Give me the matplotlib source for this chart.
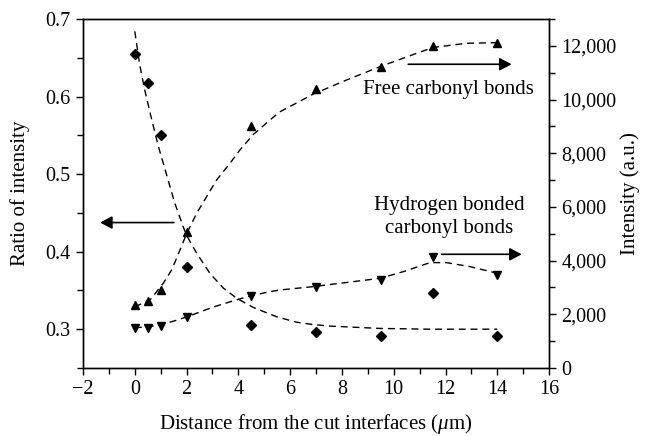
import numpy as np
import matplotlib
matplotlib.use('Agg')
import matplotlib.pyplot as plt
from matplotlib.ticker import FuncFormatter, MultipleLocator

plt.rcParams['font.family'] = ['Liberation Serif', 'DejaVu Serif']
plt.rcParams['mathtext.fontset'] = 'custom'
plt.rcParams['mathtext.rm'] = 'Liberation Serif'
plt.rcParams['mathtext.it'] = 'Liberation Serif:italic'

# measured points
distance = [0, 0.5, 1, 2, 4.5, 7, 9.5, 11.5, 14]
ratio = [0.655, 0.617, 0.551, 0.380, 0.306, 0.297, 0.291, 0.347, 0.291]
free_int = [2350, 2500, 2910, 5050, 9010, 10380, 11220, 11990, 12120]
hbond_int = [1500, 1480, 1560, 1890, 2680, 3010, 3280, 4120, 3480]

# dashed fit curves
ratio_fit_x = [0.0, 0.19, 0.38, 0.64, 0.90, 1.22, 1.54, 1.86, 2.0, 2.39, 2.9,
               3.42, 3.93, 4.58, 5.48, 6.25, 6.89, 7.54, 9.47, 11.4, 14.0]
ratio_fit_y = [0.684, 0.641, 0.609, 0.572, 0.537, 0.500, 0.463, 0.433, 0.421,
               0.398, 0.372, 0.353, 0.340, 0.328, 0.316, 0.309, 0.306, 0.304,
               0.301, 0.300, 0.300]
free_fit_x = [0.0, 0.59, 1.1, 1.42, 1.62, 2.0, 2.39, 3.16, 3.68, 4.06, 4.58,
              5.22, 5.6, 6.89, 8.18, 9.47, 10.88, 11.53, 12.81, 14.0]
free_fit_y = [2280, 2533, 3155, 3650, 4100, 5000, 5763, 7003, 7629, 8121,
              8700, 9238, 9540, 10200, 10728, 11224, 11720, 11940, 12094, 12118]
hbond_fit_x = [0.0, 0.59, 1.1, 1.55, 2.0, 2.64, 3.03, 3.93, 4.45, 5.22, 5.6,
               6.89, 9.47, 10.37, 11.4, 12.04, 12.95, 14.0]
hbond_fit_y = [1500, 1540, 1639, 1760, 1900, 2130, 2270, 2540, 2682, 2842,
               2905, 3030, 3340, 3588, 3924, 3924, 3775, 3527]

fig = plt.figure(figsize=(6.46, 4.36), dpi=100)
ax = fig.add_axes([0.1285, 0.156, 0.7215, 0.8005])
ax2 = ax.twinx()

dash = dict(color='black', lw=1.0, ls=(0, (5, 3.5)))
ax.plot(ratio_fit_x, ratio_fit_y, **dash)
ax.plot(distance, ratio, 'D', color='black', ms=4.8)
ax2.plot(free_fit_x, free_fit_y, **dash)
ax2.plot(hbond_fit_x, hbond_fit_y, **dash)
ax2.plot(distance, free_int, '^', color='black', ms=6.3)
ax2.plot(distance, hbond_int, 'v', color='black', ms=6.3)

ax.set_xlim(-2, 16)
ax.set_ylim(0.25, 0.7)
ax2.set_ylim(0, 13000)

ax.xaxis.set_major_locator(MultipleLocator(2))
ax.xaxis.set_minor_locator(MultipleLocator(1))
ax.yaxis.set_major_locator(MultipleLocator(0.1))
ax.yaxis.set_minor_locator(MultipleLocator(0.05))
ax2.yaxis.set_major_locator(MultipleLocator(2000))
ax2.yaxis.set_minor_locator(MultipleLocator(1000))
ax2.yaxis.set_major_formatter(FuncFormatter(lambda v, _: "{:,}".format(int(v))))
ax.yaxis.set_major_formatter(FuncFormatter(lambda v, _: "{:.1f}".format(v)))

for a in (ax, ax2):
    a.tick_params(which='both', direction='out', labelsize=14.5, width=1.0)
    a.tick_params(which='major', length=5, pad=4)
    a.tick_params(which='minor', length=4)
    for s in a.spines.values():
        s.set_linewidth(1.0)

ax.set_xlabel(r'Distance from the cut interfaces ($\mu$m)', fontsize=15)
ax.set_ylabel('Ratio of intensity', fontsize=15)
ax2.set_ylabel('Intensity (a.u.)', fontsize=15)
ax.xaxis.set_label_coords(0.5, -0.125)
ax.yaxis.set_label_coords(-0.114, 0.5)
ax2.yaxis.set_label_coords(1.152, 0.5)

arrow = dict(arrowstyle='-|>,head_length=0.6,head_width=0.32',
             color='black', lw=1.2, mutation_scale=12, shrinkA=0, shrinkB=0)
ax.annotate('', xy=(-1.34, 0.4375), xytext=(1.51, 0.4375), arrowprops=arrow)
ax2.annotate('', xy=(14.55, 11313), xytext=(10.56, 11313), arrowprops=arrow)
ax2.annotate('', xy=(14.94, 4235), xytext=(11.85, 4235), arrowprops=arrow)

ax2.text(12.1, 10382, 'Free carbonyl bonds', fontsize=15,
         ha='center', va='center')
ax2.text(12.13, 5625, 'Hydrogen bonded\ncarbonyl bonds', fontsize=15,
         ha='center', va='center', linespacing=1.25)

fig.savefig('out.png', dpi=100)
